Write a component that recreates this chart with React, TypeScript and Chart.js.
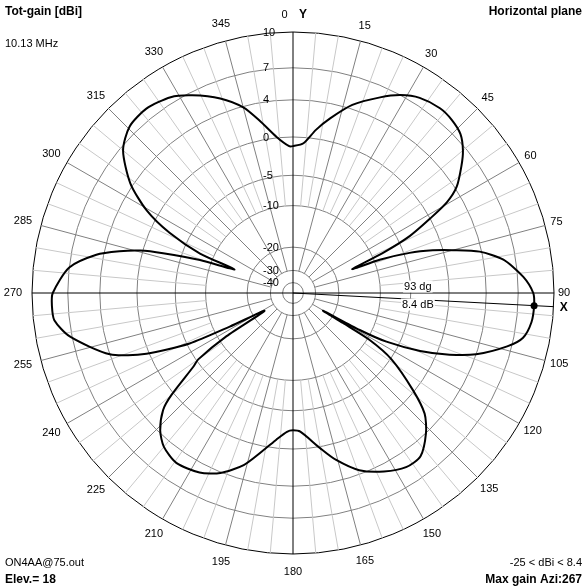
import { useEffect, useRef } from 'react';
import { Chart, registerables } from 'chart.js';

Chart.register(...registerables);

// Azimuth (degrees, clockwise from Y) and total gain (dBi)
const azimuthDeg = [
  0, 4, 8, 12, 17.5, 24, 28.5, 33, 38.5, 42.5, 46.5, 50, 53, 57, 59.5, 61.5, 64, 66, 68, 69, 71, 73, 75, 77.5, 81, 86,
  90, 93, 97, 101, 104, 108.5, 111.5, 114.5, 117.5, 119, 120.5, 121, 121.5, 124, 129, 132.5, 136.5, 142, 147, 153, 159.5, 165.5, 170, 177,
  180, 182.5, 186.5, 190.5, 196, 202, 207.5, 214.5, 220, 224, 228, 230, 233.5, 235, 237, 238, 242, 244, 247.5, 251.5, 259, 263.5, 267,
  270, 276.5, 281, 283.5, 285.5, 287, 289.5, 292, 293, 296, 299.5, 304, 310, 315.5, 321.5, 328, 333, 339.5, 345, 349, 354, 358.5,
];
const gainDbi = [
  -1.1, -0.7, 1.0, 2.5, 4.4, 6.0, 7.0, 7.65, 7.95, 7.85, 7.5, 6.7, 5.7, 4.2, 2.5, 0.0, -3.3, -8.1, -15.0, -9.0, -4.2, -1.2, 1.1, 3.8, 5.9, 7.5,
  8.3, 8.4, 8.3, 7.8, 6.6, 4.0, 1.4, -2.0, -6.9, -12.2, -24.0, -16.4, -9.6, -4.8, -0.2, 2.5, 4.0, 5.35, 5.4, 4.7, 3.6, 1.85, 0.2, -2.1,
  -2.3, -2.1, -1.0, 0.4, 2.55, 4.1, 4.9, 5.25, 4.75, 3.8, 2.1, 0.3, -4.1, -5.3, -11.6, -24.5, -13.2, -5.4, 0.3, 4.0, 7.2, 8.3, 8.4,
  8.3, 7.0, 4.7, 2.5, 0.3, -2.5, -8.0, -15.2, -7.6, -2.3, 1.4, 4.3, 6.7, 7.7, 7.9, 7.5, 6.7, 5.4, 3.9, 2.2, 0.1, -1.1,
];

const ringDbi = [10, 7, 4, 0, -5, -10, -20, -30, -40];
const compassDeg = [0, 15, 30, 45, 60, 75, 90, 105, 120, 135, 150, 165, 180, 195, 210, 225, 240, 255, 270, 285, 300, 315, 330, 345];
const maxGainAz = 93;
const maxGainDbi = 8.4;
const minGainDbi = -25;

const titleText = 'Tot-gain [dBi]';
const freqText = '10.13 MHz';
const planeText = 'Horizontal plane';
const fileText = 'ON4AA@75.out';
const elevText = 'Elev.= 18';
const rangeText = `${minGainDbi} < dBi < ${maxGainDbi}`;
const maxAziText = 'Max gain Azi:267';

const STEP = 0.5;
const N = 360 / STEP;
const OUTER_DB = 10;

// log-like radial scale (outer ring = 10 dBi)
function toRadius(db: number) {
  const d = db - OUTER_DB;
  return Math.exp(0.0482 * d - 0.000325 * d * d);
}

const labels = Array.from({ length: N }, (_, i) => String(i * STEP));
const patternData: (number | null)[] = Array(N).fill(null);
azimuthDeg.forEach((az, i) => {
  patternData[Math.round(az / STEP) % N] = toRadius(gainDbi[i]);
});
const markerData: (number | null)[] = Array(N).fill(null);
markerData[Math.round(maxGainAz / STEP)] = toRadius(maxGainDbi);

const FONT = '"Liberation Sans", Arial, sans-serif';

const overlayPlugin = {
  id: 'overlay',
  beforeDatasetsDraw(chart: any) {
    const ctx = chart.ctx as CanvasRenderingContext2D;
    const s = chart.scales.r;
    const cx = s.xCenter;
    const cy = s.yCenter;
    ctx.save();
    ctx.lineWidth = 1;
    // spokes
    for (let a = 0; a < 360; a += 5) {
      if (a % 90 === 0) continue;
      const idx = a / STEP;
      const major = a % 15 === 0;
      const p0 = s.getPointPositionForValue(idx, toRadius(major ? -30 : -10));
      const p1 = s.getPointPositionForValue(idx, 1);
      ctx.strokeStyle = major ? '#808080' : '#c8c8c8';
      ctx.beginPath();
      ctx.moveTo(p0.x, p0.y);
      ctx.lineTo(p1.x, p1.y);
      ctx.stroke();
    }
    // axes
    ctx.strokeStyle = '#000';
    [0, 90].forEach((a) => {
      const p0 = s.getPointPositionForValue(a / STEP, 1);
      const p1 = s.getPointPositionForValue((a + 180) / STEP, 1);
      ctx.beginPath();
      ctx.moveTo(p0.x, p0.y);
      ctx.lineTo(p1.x, p1.y);
      ctx.stroke();
    });
    // max gain direction line
    const idxMax = Math.round(maxGainAz / STEP);
    const pe = s.getPointPositionForValue(idxMax, 1);
    ctx.beginPath();
    ctx.moveTo(cx, cy);
    ctx.lineTo(pe.x, pe.y);
    ctx.stroke();

    // ring labels
    ctx.fillStyle = '#000';
    ctx.font = `11px ${FONT}`;
    ctx.textAlign = 'left';
    ctx.textBaseline = 'middle';
    ringDbi.forEach((db) => {
      const y = cy - s.getDistanceFromCenterForValue(toRadius(db));
      ctx.fillText(String(db), cx - 30, y + 0.5);
    });

    // max gain annotation
    const pm = s.getPointPosition(idxMax, 125);
    const boxText = (t: string, x: number, y: number) => {
      const w = ctx.measureText(t).width;
      ctx.fillStyle = '#fff';
      ctx.fillRect(x - w / 2 - 1, y - 6, w + 2, 12);
      ctx.fillStyle = '#000';
      ctx.textAlign = 'center';
      ctx.fillText(t, x, y);
    };
    boxText(`${maxGainAz} dg`, pm.x, pm.y - 13);
    boxText(`${maxGainDbi} dB`, pm.x, pm.y + 5);
    ctx.restore();
  },
  afterDraw(chart: any) {
    const ctx = chart.ctx as CanvasRenderingContext2D;
    const s = chart.scales.r;
    const cx = s.xCenter;
    const cy = s.yCenter;
    const R = s.drawingArea;
    const W = chart.width;
    const H = chart.height;
    ctx.save();
    ctx.fillStyle = '#000';
    ctx.textBaseline = 'middle';
    ctx.font = `11px ${FONT}`;
    compassDeg.forEach((a) => {
      const t = String(a);
      const w = ctx.measureText(t).width;
      const th = (a * Math.PI) / 180;
      const sn = Math.sin(th);
      const cs = Math.cos(th);
      let r: number;
      if (a === 0) {
        ctx.textAlign = 'center';
        ctx.fillText(t, cx - 8.5, cy - (R + 17));
        return;
      }
      if (a < 180) r = R + 10 + 6 * Math.abs(cs) + ((w - 12) / 2) * Math.abs(sn);
      else if (a === 180) r = R + 18;
      else r = R + 19 - 2 * Math.abs(cs);
      ctx.textAlign = 'center';
      ctx.fillText(t, cx + r * sn, cy - r * cs);
    });

    ctx.font = `bold 12px ${FONT}`;
    ctx.textAlign = 'center';
    ctx.fillText('Y', cx + 10, cy - (R + 17));
    const th = (maxGainAz * Math.PI) / 180;
    ctx.fillText('X', cx + (R + 10) * Math.sin(th), cy - (R + 10) * Math.cos(th) + 0.5);

    ctx.textAlign = 'left';
    ctx.fillText(titleText, 5, 12);
    ctx.fillText(elevText, 5, H - 7);
    ctx.textAlign = 'right';
    ctx.fillText(planeText, W - 5, 12);
    ctx.fillText(maxAziText, W - 5, H - 7);

    ctx.font = `11px ${FONT}`;
    ctx.textAlign = 'left';
    ctx.fillText(freqText, 5, 43.5);
    ctx.fillText(fileText, 5, H - 24);
    ctx.textAlign = 'right';
    ctx.fillText(rangeText, W - 5, H - 24);
    ctx.restore();
  },
};

export default function App() {
  const ref = useRef<HTMLCanvasElement>(null);
  useEffect(() => {
    const chart = new Chart(ref.current as HTMLCanvasElement, {
      type: 'radar',
      data: {
        labels,
        datasets: [
          {
            data: patternData as any,
            borderColor: '#000',
            borderWidth: 2,
            pointRadius: 0,
            spanGaps: true,
            fill: false,
            tension: 0.25,
            borderJoinStyle: 'round',
          },
          {
            data: markerData as any,
            showLine: false,
            pointRadius: 3.5,
            pointBackgroundColor: '#000',
            pointBorderColor: '#000',
            borderWidth: 0,
          },
        ],
      },
      options: {
        responsive: false,
        animation: false,
        layout: { padding: { left: 32, top: 32, right: 33, bottom: 33 } },
        plugins: { legend: { display: false }, tooltip: { enabled: false } },
        scales: {
          r: {
            min: 0,
            max: 1,
            startAngle: 0,
            angleLines: { display: false },
            pointLabels: { display: false },
            ticks: { display: false },
            grid: {
              circular: true,
              lineWidth: 1,
              color: (c: any) => (c.tick && c.tick.value >= 0.999 ? '#000' : '#808080'),
            },
            afterBuildTicks: (scale: any) => {
              const vals = ringDbi.map(toRadius).sort((a, b) => a - b);
              scale.ticks = [{ value: 0 }, ...vals.map((v) => ({ value: v }))];
            },
          },
        },
      },
      plugins: [overlayPlugin],
    });
    return () => chart.destroy();
  }, []);
  return (
    <div style={{ position: 'fixed', left: 0, top: 0, width: 587, height: 587, background: '#fff' }}>
      <canvas ref={ref} width={587} height={587} style={{ display: 'block', width: 587, height: 587 }} />
    </div>
  );
}
